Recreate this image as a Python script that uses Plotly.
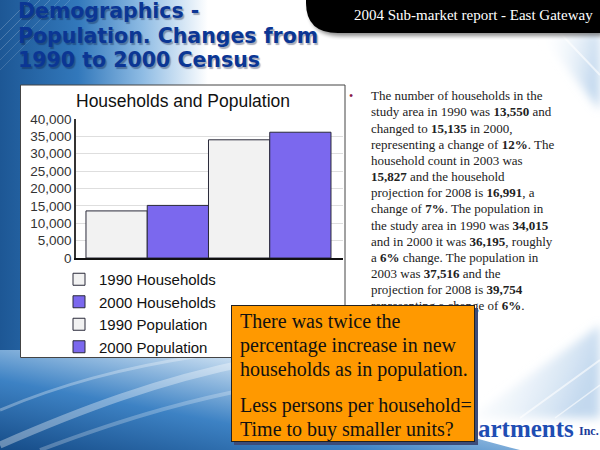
import base64
import plotly.graph_objects as go

# ---------------- data ----------------
series = ["1990 Households", "2000 Households", "1990 Population", "2000 Population"]
values = [13550, 15135, 34015, 36195]
bar_colors = ["#f2f2f2", "#7b68ee", "#f2f2f2", "#7b68ee"]
y_ticks = [0, 5000, 10000, 15000, 20000, 25000, 30000, 35000, 40000]

chart_title = "Households and Population"
slide_title = ["Demographics -", "Population. Changes from", "1990 to 2000 Census"]
header_text = "2004 Sub-market report - East Gateway"
body_lines = [
    "The number of households in the",
    "study area in 1990 was <b>13,550</b> and",
    "changed to <b>15,135</b> in 2000,",
    "representing a change of <b>12%</b>. The",
    "household count in 2003 was",
    "<b>15,827</b> and the household",
    "projection for 2008 is <b>16,991</b>, a",
    "change of <b>7%</b>. The population in",
    "the study area in 1990 was <b>34,015</b>",
    "and in 2000 it was <b>36,195</b>, roughly",
    "a <b>6%</b> change. The population in",
    "2003 was <b>37,516</b> and the",
    "projection for 2008 is <b>39,754</b>",
    "representing a change of <b>6%</b>.",
]
callout_lines = [
    "There was twice the",
    "percentage increase in new",
    "households as in population.",
    "Less persons per household=",
    "Time to buy smaller units?",
]
logo_text = "artments"
logo_suffix = "Inc."

# ---------------- geometry helpers (pixel -> paper) ----------------
W, H = 600, 450
L, R, T, B = 76, 343, 119, 258
PW, PH = R - L, B - T


def X(px):
    return (px - L) / PW


def Y(py):
    return (B - py) / PH


def note(text, x, y, size, color, family, xanchor="left", shadow=None, **kw):
    font = dict(family=family, size=size, color=color)
    if shadow:
        font["shadow"] = shadow
    d = dict(text=text, xref="paper", yref="paper", x=X(x), y=Y(y), xanchor=xanchor, yanchor="middle",
             showarrow=False, font=font)
    d.update(kw)
    return d


# ---------------- background artwork ----------------
svg = '''<svg xmlns="http://www.w3.org/2000/svg" width="600" height="450" viewBox="0 0 600 450" preserveAspectRatio="none">
<defs>
<linearGradient id="gl" x1="0" y1="0" x2="1" y2="0">
<stop offset="0" stop-color="#1d5795"/>
<stop offset="0.3" stop-color="#3278bb"/>
<stop offset="0.55" stop-color="#8fbce4"/>
<stop offset="0.8" stop-color="#ffffff"/>
</linearGradient>
<linearGradient id="gb" x1="0" y1="1" x2="1" y2="0">
<stop offset="0" stop-color="#164c88"/>
<stop offset="0.35" stop-color="#3d82c4"/>
<stop offset="0.7" stop-color="#cfe2f3"/>
<stop offset="1" stop-color="#ffffff"/>
</linearGradient>
<linearGradient id="gr" x1="0" y1="0" x2="1" y2="0.3">
<stop offset="0" stop-color="#ffffff" stop-opacity="0"/>
<stop offset="1" stop-color="#b4cfea" stop-opacity="0.8"/>
</linearGradient>
<filter id="bl"><feGaussianBlur stdDeviation="2"/></filter>
<filter id="bl2"><feGaussianBlur stdDeviation="5"/></filter>
</defs>
<rect width="600" height="450" fill="#ffffff"/>
<rect x="0" y="0" width="260" height="450" fill="url(#gl)"/>
<path d="M0,350 L250,350 C330,390 420,425 520,450 L0,450 Z" fill="url(#gb)"/>
<g stroke="#ffffff" fill="none">
<path d="M0,445 C80,410 160,380 250,362" stroke-width="7" stroke-opacity="0.35"/>
<path d="M0,410 C60,385 120,368 200,356" stroke-width="3" stroke-opacity="0.3"/>
<path d="M40,450 C120,420 200,395 300,380" stroke-width="4" stroke-opacity="0.25"/>
<path d="M0,30 L30,0" stroke-width="1" stroke-opacity="0.2"/>
<path d="M0,40 L40,0" stroke-width="1" stroke-opacity="0.2"/>
<path d="M0,50 L50,0" stroke-width="1" stroke-opacity="0.2"/>
<path d="M0,60 L60,0" stroke-width="1" stroke-opacity="0.15"/>
<path d="M0,70 L70,0" stroke-width="1" stroke-opacity="0.15"/>
</g>
<path d="M540,33 L600,33 L600,110 Z" fill="url(#gr)" filter="url(#bl2)"/>
<path d="M470,418 L600,418 L600,325 Z" fill="url(#gr)" filter="url(#bl2)"/>
<g stroke="#ffffff" fill="none" stroke-opacity="0.6">
<path d="M560,33 L600,75" stroke-width="2"/>
<path d="M520,418 L600,360" stroke-width="2"/>
<path d="M555,418 L600,385" stroke-width="1.5"/>
</g>
<path d="M309,3 H603 V36 H341 Q309,36 309,6 Z" fill="#000" opacity="0.45" filter="url(#bl)"/>
<path d="M306,0 H600 V33 H338 Q306,33 306,3 Z" fill="#000"/>
</svg>'''
svg_uri = "data:image/svg+xml;base64," + base64.b64encode(svg.encode()).decode()

# ---------------- figure ----------------
fig = go.Figure()
for name, val, col in zip(series, values, bar_colors):
    fig.add_trace(go.Bar(
        x=[name], y=[val], name=name, width=1, legendgroup=name,
        marker=dict(color=col, line=dict(color="#2a2a3a", width=1)),
        hoverinfo="name+y",
    ))

annotations = []

# slide title
title_y = [11.5, 36, 60.5]
for txt, yy in zip(slide_title, title_y):
    annotations.append(note(f"<b>{txt}</b>", 17, yy, 20.5, "#0b3694", "DejaVu Sans",
                            shadow="1.5px 1.5px 1px rgba(10,20,60,0.35)", borderpad=0))

# header in the black tab
annotations.append(note(header_text, 473, 15, 15, "#ffffff", "Liberation Serif", xanchor="center"))

# chart title
annotations.append(note(chart_title, 183, 101, 17.5, "#111111", "Liberation Sans", xanchor="center"))

# bullet + body text
annotations.append(note("•", 351, 95.5, 12, "#8b1a4a", "Liberation Serif", xanchor="center"))
for i, line in enumerate(body_lines):
    annotations.append(note(line, 369, 95.8 + 16.15 * i, 13, "#222222", "Liberation Serif"))

# logo
annotations.append(note(f"<b>{logo_text}</b>", 476, 428, 25, "#1f4db3", "Liberation Serif"))
annotations.append(note(f"<b>{logo_suffix}</b>", 577, 431, 12, "#1c3a99", "Liberation Serif"))

# callout box: shadow, box, text
annotations.append(note(" ", 356, 376.5, 10, "#000000", "Liberation Serif", xanchor="center",
                        width=244, height=137, borderpad=0, borderwidth=0, bgcolor="#3b4c7a"))
annotations.append(note(" ", 353, 373.5, 10, "#000000", "Liberation Serif", xanchor="center",
                        width=242, height=135, borderpad=0, borderwidth=1, bordercolor="#222222",
                        bgcolor="#ff9900"))
callout_y = [321, 345, 369, 405, 429]
for txt, yy in zip(callout_lines, callout_y):
    annotations.append(note(txt, 238, yy, 20, "#111111", "Liberation Serif"))

fig.update_layout(
    width=W, height=H, autosize=False,
    margin=dict(l=L, r=W - R, t=T, b=H - B, pad=0),
    paper_bgcolor="#ffffff", plot_bgcolor="rgba(0,0,0,0)",
    barmode="overlay",
    showlegend=True,
    legend=dict(x=X(59), y=Y(263), xanchor="left", yanchor="top", bgcolor="rgba(0,0,0,0)",
                font=dict(family="Liberation Sans", size=15, color="#111111"),
                tracegroupgap=0, itemwidth=30),
    xaxis=dict(type="category", categoryorder="array", categoryarray=series,
               range=[-0.663, 3.696], showticklabels=False, showgrid=False,
               showline=True, linecolor="#111111", linewidth=2, ticks="", zeroline=False, fixedrange=True),
    yaxis=dict(range=[0, 40000], tickvals=y_ticks, tickformat=",", showgrid=True, gridcolor="#dedede",
               gridwidth=1, showline=True, linecolor="#333333", linewidth=1.5, zeroline=False, ticks="",
               ticklabelstandoff=0, tickfont=dict(family="Liberation Sans", size=13.5, color="#333333"),
               fixedrange=True),
    images=[dict(source=svg_uri, xref="paper", yref="paper", x=X(0), y=Y(0), sizex=W / PW, sizey=H / PH,
                 xanchor="left", yanchor="top", sizing="stretch", layer="below")],
    shapes=[dict(type="rect", xref="paper", yref="paper", x0=X(20.5), x1=X(345), y0=Y(85), y1=Y(357.5),
                 fillcolor="#ffffff", line=dict(color="#444444", width=1), layer="below")],
    annotations=annotations,
)

fig.write_html("out.html", config={"displayModeBar": False},
               post_script="document.body.style.margin='0';")
